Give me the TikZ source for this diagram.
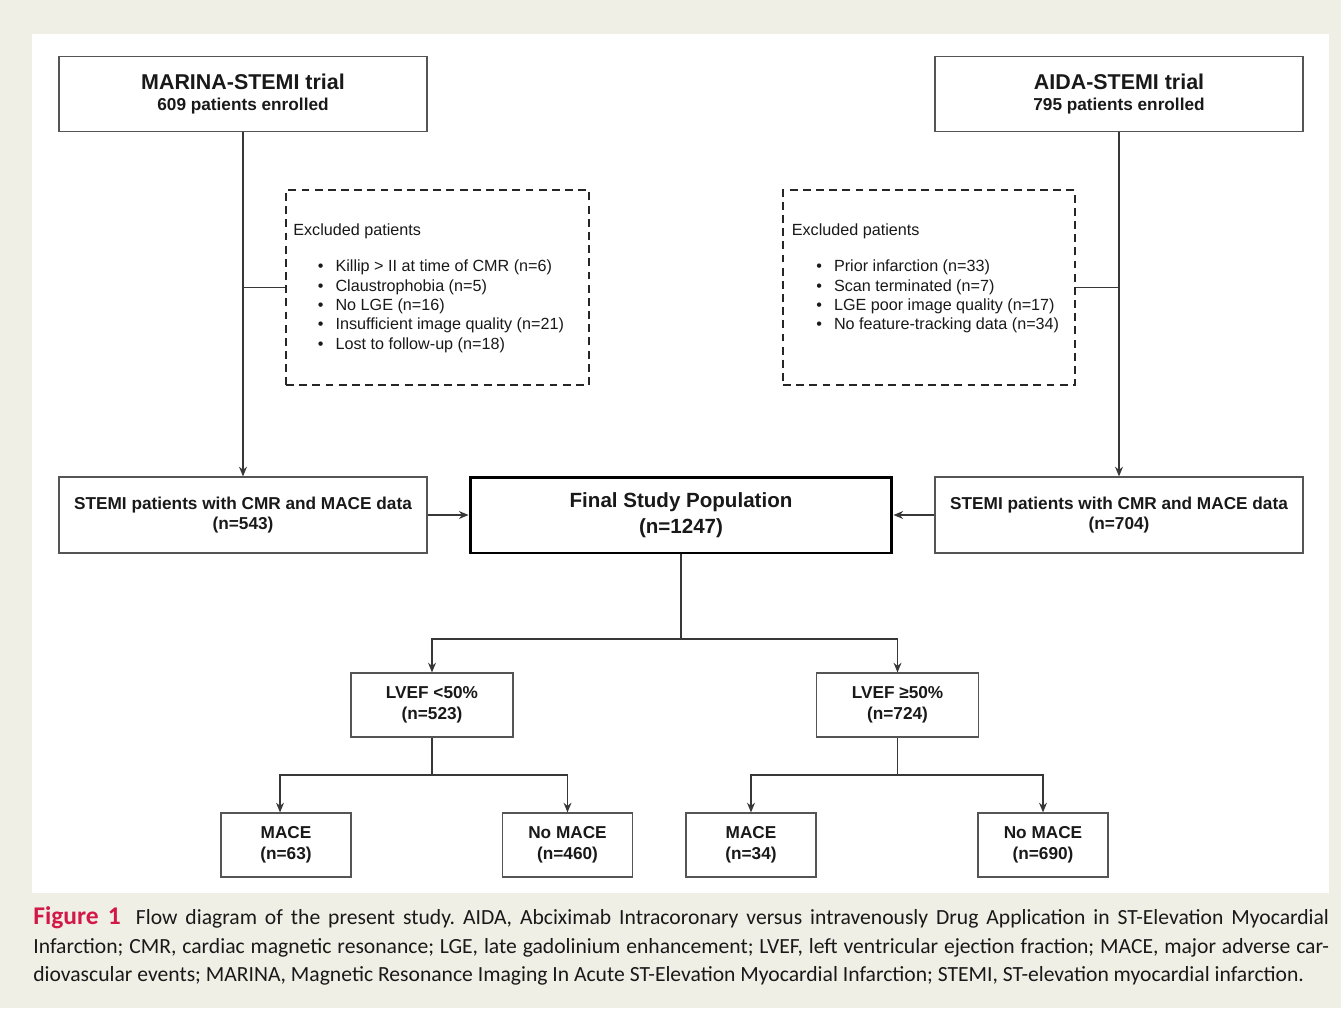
\documentclass[tikz,border=0pt]{standalone}
\usepackage{fontspec}
\setmainfont{Liberation Sans}
\newfontfamily\captionfont{Carlito}
\usetikzlibrary{arrows.meta}

\definecolor{pageBeige}{RGB}{240,239,230}
\definecolor{boxGray}{RGB}{85,85,85}
\definecolor{lineGray}{RGB}{55,55,55}
\definecolor{textBlack}{RGB}{25,25,25}
\definecolor{figureRed}{RGB}{209,24,71}

\newcommand{\exclItem}[1]{\hspace*{14pt}\textbullet\hspace{6.8pt}#1}

\begin{document}
\begin{tikzpicture}[x=0.02cm, y=-0.02cm, >={Stealth[length=5.5pt,width=4.5pt]}]
\tikzstyle{boxNode} =
[
	shape			= rectangle,		% shape
	draw			= boxGray,			% colour of the border
	line width		= 0.7pt,			% thickness of the border
	fill			= white,			% filling colour
	text			= textBlack,		% colour of the text
	align			= center,			% centred lines
	font			= \bfseries\fontsize{9.8}{11}\selectfont,	% used font
	inner sep		= 0pt				% text and borders
]
\tikzstyle{exclBox} =
[
	shape			= rectangle,		% shape
	draw			= black!85,			% colour of the border
	line width		= 1.2pt,			% thickness of the border
	dash pattern	= on 4.5pt off 3pt,	% dashed border
	minimum height	= 3.9cm				% height of the box
]
\tikzstyle{exclText} =
[
	anchor			= north west,		% placed by its top left corner
	align			= left,				% left aligned lines
	text			= textBlack,		% colour of the text
	font			= \fontsize{9.2}{11.05}\selectfont,	% used font
	inner sep		= 0pt				% no padding
]
\tikzstyle{link} = [draw = lineGray, line width = 0.7pt]

% page and panel
\fill [pageBeige] (0,0) rectangle (1341,1008);
\fill [white] (32,34) rectangle (1329,893);

% trials
\node (marina) [boxNode, minimum width = 7.36cm, minimum height = 1.5cm] at (243,94)
	{{\fontsize{12.2}{13}\selectfont MARINA-STEMI trial}\\[1.5pt]609 patients enrolled};
\node (aida) [boxNode, minimum width = 7.36cm, minimum height = 1.5cm] at (1119,94)
	{{\fontsize{12.2}{13}\selectfont AIDA-STEMI trial}\\[1.5pt]795 patients enrolled};

% exclusions
\node (exclLeft) [exclBox, minimum width = 6.06cm] at (437.5,287.5) {};
\node (exclLeftText) [exclText] at (293,223.3)
	{Excluded patients\\[9.65pt]
	 \exclItem{Killip > II at time of CMR (n=6)}\\
	 \exclItem{Claustrophobia (n=5)}\\
	 \exclItem{No LGE (n=16)}\\
	 \exclItem{Insufficient image quality (n=21)}\\
	 \exclItem{Lost to follow-up (n=18)}};
\node (exclRight) [exclBox, minimum width = 5.84cm] at (929,287.5) {};
\node (exclRightText) [exclText] at (791.5,223.3)
	{Excluded patients\\[9.65pt]
	 \exclItem{Prior infarction (n=33)}\\
	 \exclItem{Scan terminated (n=7)}\\
	 \exclItem{LGE poor image quality (n=17)}\\
	 \exclItem{No feature-tracking data (n=34)}};

% cohorts
\node (stemiLeft) [boxNode, minimum width = 7.36cm, minimum height = 1.52cm] at (243,515)
	{STEMI patients with CMR and MACE data\\(n=543)};
\node (stemiRight) [boxNode, minimum width = 7.36cm, minimum height = 1.52cm] at (1119,515)
	{STEMI patients with CMR and MACE data\\(n=704)};
\node (final) [boxNode, draw = black, line width = 1.7pt, minimum width = 8.44cm, minimum height = 1.52cm,
	font = \bfseries\fontsize{11.7}{14}\selectfont] at (681,515)
	{Final Study Population\\[0.8pt](n=1247)};

% subgroups
\node (lvefLow) [boxNode, minimum width = 3.24cm, minimum height = 1.28cm] at (432,705)
	{LVEF <50\%\\[1pt](n=523)};
\node (lvefHigh) [boxNode, minimum width = 3.24cm, minimum height = 1.28cm] at (897.5,705)
	{LVEF ≥50\%\\[1pt](n=724)};
\node (maceLow) [boxNode, minimum width = 2.6cm, minimum height = 1.28cm] at (286,845)
	{MACE\\[1pt](n=63)};
\node (noMaceLow) [boxNode, minimum width = 2.6cm, minimum height = 1.28cm] at (567.5,845)
	{No MACE\\[1pt](n=460)};
\node (maceHigh) [boxNode, minimum width = 2.6cm, minimum height = 1.28cm] at (751,845)
	{MACE\\[1pt](n=34)};
\node (noMaceHigh) [boxNode, minimum width = 2.6cm, minimum height = 1.28cm] at (1043,845)
	{No MACE\\[1pt](n=690)};

\coordinate (finalSplit) at (681,639);
\coordinate (lowSplit) at (432,775);
\coordinate (highSplit) at (897.5,775);

% connectors
\draw [link, ->] (marina) -- (stemiLeft);
\draw [link] (marina.south |- exclLeft.west) -- (exclLeft.west);
\draw [link, ->] (aida) -- (stemiRight);
\draw [link] (aida.south |- exclRight.east) -- (exclRight.east);
\draw [link, ->] (stemiLeft) -- (final);
\draw [link, ->] (stemiRight) -- (final);
\draw [link] (final) -- (finalSplit);
\draw [link, ->] (finalSplit) -| (lvefLow);
\draw [link, ->] (finalSplit) -| (lvefHigh);
\draw [link] (lvefLow) -- (lowSplit);
\draw [link, ->] (lowSplit) -| ([xshift=-3.4pt]maceLow.north);
\draw [link, ->] (lowSplit) -| (noMaceLow);
\draw [link] (lvefHigh) -- (highSplit);
\draw [link, ->] (highSplit) -| (maceHigh);
\draw [link, ->] (highSplit) -| (noMaceHigh);

% caption
\node (caption) [anchor = north west, text width = 25.92cm, align = justify, inner sep = 0pt,
	text = textBlack, font = \captionfont\frenchspacing\fontsize{12.3}{16.4}\selectfont] at (33,906)
	{\textcolor{figureRed}{\fontsize{14.5}{16.4}\selectfont\textbf{Figure 1}}\hspace{4pt} Flow diagram of the present study. AIDA, Abciximab Intracoronary versus intravenously Drug Application in ST-Elevation Myocardial\linebreak
	 Infarction; CMR, cardiac magnetic resonance; LGE, late gadolinium enhancement; LVEF, left ventricular ejection fraction; MACE, major adverse car-\linebreak
	 diovascular events; MARINA, Magnetic Resonance Imaging In Acute ST-Elevation Myocardial Infarction; STEMI, ST-elevation myocardial infarction.};
\end{tikzpicture}
\end{document}
